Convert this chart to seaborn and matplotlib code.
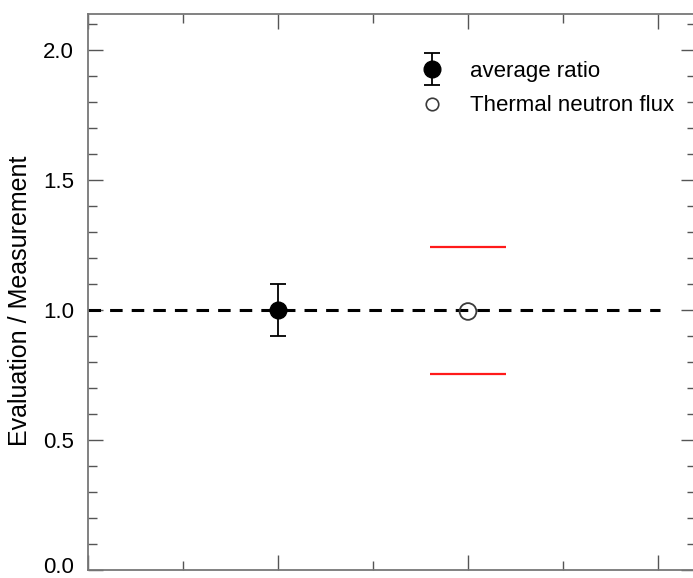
import matplotlib
matplotlib.use("Agg")
import matplotlib.pyplot as plt
import matplotlib.transforms as mtransforms
from matplotlib.lines import Line2D
from matplotlib.legend_handler import HandlerErrorbar
from matplotlib.ticker import MultipleLocator
import numpy as np
import pandas as pd
import seaborn as sns

# Values
avg_x = [1.0]
avg_ratio = [1.0]
avg_err = [0.1]
flux_x = [2.0]
flux_ratio = [0.995]
band_upper = 1.245
band_lower = 0.756
band_xmin, band_xmax = 1.8, 2.2
ref_x = [0.0, 3.01]
ref_y = [1.0, 1.0]
ytick_values = [0.0, 0.5, 1.0, 1.5, 2.0]
ytick_labels = ["0.0", "0.5", "1.0", "1.5", "2.0"]

sns.set_theme(style="ticks")
plt.rcParams["font.family"] = ["Liberation Sans", "DejaVu Sans"]
plt.rcParams["text.color"] = "black"
plt.rcParams["axes.labelcolor"] = "black"
plt.rcParams["ytick.labelcolor"] = "black"

fig = plt.figure(figsize=(6.93, 5.78), dpi=100)
W, H = 693, 578
left, right, top, bottom = 88, 696, 14, 570
ax = fig.add_axes([left / W, (H - bottom) / H, (right - left) / W, (bottom - top) / H])

# Dashed reference line at unity
ref = pd.DataFrame({"x": ref_x, "y": ref_y})
sns.lineplot(data=ref, x="x", y="y", ax=ax, color="black", linewidth=2.2,
             dashes=False, zorder=2)
ax.lines[-1].set_dashes((4.1, 2.97))

# Red band around the flux point
ax.hlines([band_upper, band_lower], band_xmin, band_xmax, colors="#ff1a1a",
          linewidth=1.6, zorder=3)

# Average ratio with error bar
eb = ax.errorbar(avg_x, avg_ratio, yerr=avg_err, fmt="o", color="black",
                 markersize=12, ecolor="black", elinewidth=1.3, capsize=6,
                 capthick=1.3, zorder=4, label="average ratio")

# Thermal neutron flux (open circle)
flux = pd.DataFrame({"x": flux_x, "y": flux_ratio})
sns.scatterplot(data=flux, x="x", y="y", ax=ax, s=145, facecolor="none",
                edgecolor="#3a3a3a", linewidth=1.3, zorder=5)

ax.set_xlim(0, 3.2)
ax.set_ylim(0, 2.14)
ax.set_xlabel("")
ax.set_ylabel("Evaluation / Measurement", fontsize=18)
ax.yaxis.set_label_coords(-0.092, 0.485)

ax.xaxis.set_major_locator(MultipleLocator(1.0))
ax.xaxis.set_minor_locator(MultipleLocator(0.5))
ax.yaxis.set_major_locator(MultipleLocator(0.5))
ax.yaxis.set_minor_locator(MultipleLocator(0.1))
ax.set_xticklabels([])
ax.set_yticks(ytick_values)
ax.set_yticklabels(ytick_labels)

ax.tick_params(which="both", direction="in", top=True, right=True,
               color="#555555", width=1.0)
ax.tick_params(which="major", length=10.5, labelsize=16, pad=10)
ax.tick_params(which="minor", length=6.5)
ax.tick_params(axis="x", which="both", labelbottom=False)

# Keep the bottom tick label inside the canvas
lbl0 = ax.get_yticklabels()[0]
lbl0.set_transform(lbl0.get_transform() +
                   mtransforms.ScaledTranslation(0, 5 / 100, fig.dpi_scale_trans))

for s in ax.spines.values():
    s.set_color("#777777")
    s.set_linewidth(1.3)

handles = [
    eb,
    Line2D([], [], linestyle="none", marker="o", markersize=9,
           markerfacecolor="none", markeredgecolor="#3a3a3a",
           markeredgewidth=1.2),
]
labels = ["average ratio", "Thermal neutron flux"]
ax.legend(handles, labels, loc="center left", frameon=False, fontsize=16,
          bbox_to_anchor=(412.5 / W, (H - 88.5) / H),
          bbox_transform=fig.transFigure, borderpad=0, borderaxespad=0,
          handlelength=1.75, handletextpad=0.85, labelspacing=0.62,
          numpoints=1, handler_map={type(eb): HandlerErrorbar(yerr_size=0.72)})

fig.savefig("out.png", dpi=100)
